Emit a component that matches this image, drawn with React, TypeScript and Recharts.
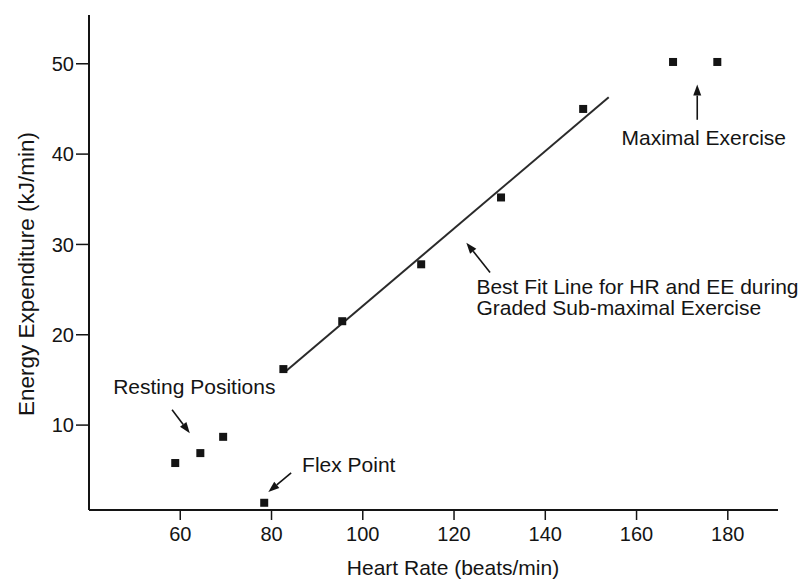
import {
  ScatterChart,
  Scatter,
  XAxis,
  YAxis,
  ReferenceLine,
  ReferenceDot,
  Label,
} from 'recharts'

// heart rate (beats/min) vs energy expenditure (kJ/min)
const restingPoints = [
  { hr: 58.9, ee: 5.8 },
  { hr: 64.4, ee: 6.9 },
  { hr: 69.4, ee: 8.7 },
]
const flexPoints = [{ hr: 78.4, ee: 1.4 }]
const gradedPoints = [
  { hr: 82.6, ee: 16.2 },
  { hr: 95.5, ee: 21.5 },
  { hr: 112.8, ee: 27.8 },
  { hr: 130.3, ee: 35.2 },
  { hr: 148.3, ee: 45.0 },
]
const maximalPoints = [
  { hr: 168.0, ee: 50.2 },
  { hr: 177.7, ee: 50.2 },
]
const fitLine = [
  { hr: 83.0, ee: 15.9 },
  { hr: 153.9, ee: 46.3 },
]

const xTicks = [60, 80, 100, 120, 140, 160, 180]
const yTicks = [10, 20, 30, 40, 50]

// annotation text, anchored at start of text in data units
const notes = [
  { text: 'Resting Positions', hr: 45.3, ee: 14.2 },
  { text: 'Flex Point', hr: 86.7, ee: 5.6 },
  { text: 'Best Fit Line for HR and EE during', hr: 124.9, ee: 25.3 },
  { text: 'Graded Sub-maximal Exercise', hr: 124.9, ee: 23.0 },
  { text: 'Maximal Exercise', hr: 156.7, ee: 41.8 },
]

// arrows: from -> to (head at "to")
const arrows = [
  { from: { hr: 58.2, ee: 11.7 }, to: { hr: 62.1, ee: 9.1 } },
  { from: { hr: 84.3, ee: 4.7 }, to: { hr: 79.3, ee: 2.6 } },
  { from: { hr: 127.9, ee: 26.9 }, to: { hr: 122.7, ee: 30.2 } },
  { from: { hr: 173.3, ee: 43.8 }, to: { hr: 173.3, ee: 47.7 } },
]

const INK = '#141414'
const FONT = '"Liberation Sans", Arial, Helvetica, sans-serif'

function SquareDot(props: any) {
  const { cx, cy } = props
  if (cx == null || cy == null) return null
  return <rect x={cx - 4} y={cy - 4} width={8} height={8} fill={INK} />
}

function ArrowShape(props: any) {
  const { x1, y1, x2, y2 } = props
  const ang = Math.atan2(y2 - y1, x2 - x1)
  const len = 11
  const half = 4
  const bx = x2 - len * Math.cos(ang)
  const by = y2 - len * Math.sin(ang)
  const px = -Math.sin(ang) * half
  const py = Math.cos(ang) * half
  return (
    <g>
      <line x1={x1} y1={y1} x2={bx} y2={by} stroke={INK} strokeWidth={1.6} />
      <polygon
        points={`${x2},${y2} ${bx + px},${by + py} ${bx - px},${by - py}`}
        fill={INK}
      />
    </g>
  )
}

function NoteText(text: string) {
  return (props: any) => (
    <text
      x={props.cx}
      y={props.cy}
      dy={7}
      fill={INK}
      fontSize={21}
      fontFamily={FONT}
      textAnchor="start"
    >
      {text}
    </text>
  )
}

export default function App() {
  return (
    <div style={{ position: 'absolute', left: 0, top: 0, width: 803, height: 582, background: '#fff' }}>
      <ScatterChart
        width={803}
        height={582}
        margin={{ top: 15, right: 25, bottom: 0, left: 0 }}
        accessibilityLayer={false}
      >
        <XAxis
          type="number"
          dataKey="hr"
          domain={[40, 191]}
          ticks={xTicks}
          height={72}
          axisLine={{ stroke: INK, strokeWidth: 2 }}
          tickLine={{ stroke: INK, strokeWidth: 1.5 }}
          tickSize={10}
          tickMargin={7}
          tick={{ fill: INK, fontSize: 20, fontFamily: FONT }}
        >
          <Label
            content={() => (
              <text x={453} y={575} textAnchor="middle" fill={INK} fontSize={21} fontFamily={FONT}>
                Heart Rate (beats/min)
              </text>
            )}
          />
        </XAxis>
        <YAxis
          type="number"
          dataKey="ee"
          domain={[0.6, 55.4]}
          ticks={yTicks}
          width={89}
          axisLine={{ stroke: INK, strokeWidth: 2 }}
          tickLine={{ stroke: INK, strokeWidth: 1.5 }}
          tickSize={13}
          tickMargin={2}
          tick={{ fill: INK, fontSize: 20, fontFamily: FONT }}
        >
          <Label
            content={() => (
              <text
                x={34}
                y={274}
                transform="rotate(-90 34 274)"
                textAnchor="middle"
                fill={INK}
                fontSize={22.5}
                fontFamily={FONT}
              >
                Energy Expenditure (kJ/min)
              </text>
            )}
          />
        </YAxis>

        <ReferenceLine
          segment={[
            { x: fitLine[0].hr, y: fitLine[0].ee },
            { x: fitLine[1].hr, y: fitLine[1].ee },
          ]}
          stroke="#2a2a2a"
          strokeWidth={2}
        />

        {arrows.map((a, i) => (
          <ReferenceLine
            key={`arrow-${i}`}
            segment={[
              { x: a.from.hr, y: a.from.ee },
              { x: a.to.hr, y: a.to.ee },
            ]}
            shape={ArrowShape}
          />
        ))}

        <Scatter data={restingPoints} shape={SquareDot} isAnimationActive={false} />
        <Scatter data={flexPoints} shape={SquareDot} isAnimationActive={false} />
        <Scatter data={gradedPoints} shape={SquareDot} isAnimationActive={false} />
        <Scatter data={maximalPoints} shape={SquareDot} isAnimationActive={false} />

        {notes.map((n) => (
          <ReferenceDot key={n.text} x={n.hr} y={n.ee} r={0} shape={NoteText(n.text)} />
        ))}
      </ScatterChart>
    </div>
  )
}
